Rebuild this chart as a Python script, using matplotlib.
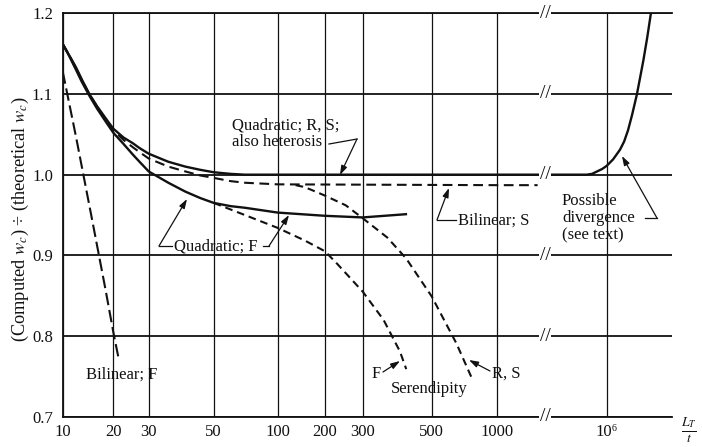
import numpy as np
import matplotlib
matplotlib.use("Agg")
import matplotlib.pyplot as plt

# readings: x = L_T / t, y = computed w_c / theoretical w_c
early_x = [10, 11, 12, 13, 14.4, 16, 18, 20, 22.5, 25, 27, 30, 35, 40, 45, 50, 60, 70, 100]

quad_rs_x = early_x + [1000, 1e4, 1e5, 2.85e5, 3.97e5, 5.44e5, 7.45e5, 1e6, 1.49e6, 2.3e6,
                       2.97e6, 3.8e6, 4.9e6, 6.6e6, 8.1e6, 1e7, 1.26e7, 1.6e7]
quad_rs_y = [1.162, 1.147, 1.133, 1.118, 1.100, 1.085, 1.070, 1.057, 1.046, 1.039, 1.033,
             1.026, 1.016, 1.010, 1.006, 1.003, 1.001, 1.000, 1.000,
             1.000, 1.000, 1.000, 1.000, 1.001, 1.004, 1.007, 1.011, 1.019, 1.031,
             1.041, 1.055, 1.074, 1.099, 1.120, 1.142, 1.169, 1.200]

bil_s_x = early_x + [1000, 1.3e4]
bil_s_y = [1.162, 1.147, 1.132, 1.117, 1.100, 1.084, 1.068, 1.055, 1.043, 1.034, 1.028,
           1.020, 1.010, 1.004, 0.999, 0.996, 0.992, 0.990, 0.988, 0.987, 0.987]

quad_f_x = early_x + [200, 300, 413]
quad_f_y = [1.162, 1.146, 1.130, 1.115, 1.098, 1.082, 1.066, 1.052, 1.038, 1.025, 1.016,
            1.004, 0.990, 0.979, 0.971, 0.965, 0.961, 0.959, 0.953, 0.949, 0.947, 0.951]

ser_f_x = [50, 70, 100, 150, 200, 227, 260, 300, 350, 395, 414]
ser_f_y = [0.965, 0.950, 0.934, 0.918, 0.905, 0.890, 0.873, 0.855, 0.820, 0.781, 0.759]

ser_rs_x = [130, 145, 160, 200, 250, 300, 360, 414, 500, 650, 766]
ser_rs_y = [0.987, 0.985, 0.982, 0.974, 0.962, 0.946, 0.922, 0.896, 0.849, 0.791, 0.748]

bil_f_x = [10, 12, 15, 18, 20, 21.3]
bil_f_y = [1.128, 1.047, 0.943, 0.857, 0.805, 0.771]

x_ticks = [10, 20, 30, 50, 100, 200, 300, 500, 1000, 1e6]
x_tick_labels = ["10", "20", "30", "50", "100", "200", "300", "500", "1000", "10⁶"]
y_ticks = [0.7, 0.8, 0.9, 1.0, 1.1, 1.2]

# the paper's axis is not a true log scale: anchor each tick where it sits
SCALE_VALS = [10, 20, 30, 50, 100, 200, 300, 500, 1000, 1e6, 1e8]
SCALE_POS = [62.7, 113.3, 148.7, 213.7, 277.7, 325.0, 362.7, 431.7, 496.7, 606.7, 680.0]
LOG_VALS = np.log10(SCALE_VALS)
BREAK_X = 2.1e4

INK = "#111111"
FS = 12

plt.rcParams["font.family"] = ["Liberation Serif", "DejaVu Serif"]
plt.rcParams["mathtext.fontset"] = "stix"
plt.rcParams["lines.scale_dashes"] = False


def fwd(x):
    x = np.clip(np.asarray(x, dtype=float), 1e-12, None)
    return np.interp(np.log10(x), LOG_VALS, SCALE_POS)


def inv(p):
    return 10 ** np.interp(p, SCALE_POS, LOG_VALS)


def ax_frac(px, py):
    # pixel position in the 702x447 figure -> axes fraction
    return (px - 62.7) / 609.0, (416.7 - py) / 403.4


def leader(ax, pts):
    pts = [ax_frac(*p) for p in pts]
    if len(pts) > 2:
        xs, ys = zip(*pts[:-1])
        ax.plot(xs, ys, color=INK, lw=0.9, transform=ax.transAxes, clip_on=False, zorder=7)
    ax.annotate("", xy=pts[-1], xytext=pts[-2], xycoords="axes fraction",
                textcoords="axes fraction",
                arrowprops=dict(arrowstyle="-|>,head_length=0.55,head_width=0.18",
                                color=INK, lw=0.9, shrinkA=0, shrinkB=0), zorder=7)


def label(ax, px, py, s, **kw):
    fx, fy = ax_frac(px, py)
    ax.text(fx, fy, s, transform=ax.transAxes, fontsize=FS, color=INK, zorder=8, **kw)


fig = plt.figure(figsize=(7.02, 4.47), dpi=100)
ax = fig.add_axes([0.0893, 0.0678, 0.9568 - 0.0893, 0.9702 - 0.0678])
ax.set_xscale("function", functions=(fwd, inv))
ax.set_xlim(10, 5.9e7)
ax.set_ylim(0.7, 1.2)

ax.plot(quad_rs_x, quad_rs_y, color=INK, lw=1.7, zorder=3)
ax.plot(quad_f_x, quad_f_y, color=INK, lw=1.7, zorder=3)
ax.plot(bil_s_x, bil_s_y, color=INK, lw=1.5, ls=(0, (7, 4)), zorder=3)
ax.plot(bil_f_x, bil_f_y, color=INK, lw=1.5, ls=(0, (9, 3.5)), zorder=3)
ax.plot(ser_f_x, ser_f_y, color=INK, lw=1.5, ls=(0, (5.5, 3.5)), zorder=3)
ax.plot(ser_rs_x, ser_rs_y, color=INK, lw=1.5, ls=(0, (5.5, 3.5)), zorder=3)

ax.set_xticks(x_ticks, x_tick_labels)
ax.xaxis.set_minor_locator(matplotlib.ticker.NullLocator())
ax.set_yticks(y_ticks, [f"{v:.1f}" for v in y_ticks])
ax.tick_params(axis="both", length=0, labelsize=FS, colors=INK)
ax.tick_params(axis="x", pad=5)
ax.tick_params(axis="y", pad=7)
ax.grid(axis="x", color=INK, lw=0.9, zorder=1)
ax.grid(axis="y", color=INK, lw=1.3, zorder=1)
ax.spines["right"].set_visible(False)
for side in ("left", "top", "bottom"):
    ax.spines[side].set_linewidth(1.3)
    ax.spines[side].set_color(INK)

# axis break marks on every horizontal line
for yv in y_ticks:
    ax.text(BREAK_X, yv, "//", ha="center", va="center", fontsize=14, color=INK,
            clip_on=False, zorder=9,
            bbox=dict(boxstyle="square,pad=0.04", fc="white", ec="none"))

ax.set_ylabel(r"(Computed $w_c$) ÷ (theoretical $w_c$)", fontsize=FS + 1.2, color=INK)
ax.yaxis.set_label_coords(-0.052, 0.49)
fig.text(689 / 702, 1 - 430 / 447, r"$\frac{L_T}{t}$", fontsize=14, ha="center",
         va="center", color=INK)

label(ax, 232, 117, "Quadratic; R, S;\nalso heterosis", ha="left", va="top", linespacing=1.05)
leader(ax, [(329, 144), (357, 139), (340, 175)])

label(ax, 458, 221, "Bilinear; S", ha="left", va="center")
leader(ax, [(456, 220), (437, 220), (449, 188)])

label(ax, 216, 246, "Quadratic; F", ha="center", va="center")
leader(ax, [(172, 246), (159, 246), (187, 199)])
leader(ax, [(263, 246), (269, 246), (289, 215)])

label(ax, 122, 375, "Bilinear; F", ha="center", va="center")
label(ax, 376, 374, "F", ha="center", va="center")
leader(ax, [(383, 372), (400, 361)])
label(ax, 429, 389, "Serendipity", ha="center", va="center")
label(ax, 506, 374, "R, S", ha="center", va="center")
leader(ax, [(490, 371), (469, 360)])

label(ax, 562, 193, "Possible\ndivergence\n(see text)", ha="left", va="top", linespacing=1.1)
leader(ax, [(645, 218), (657, 218), (622, 156)])

fig.savefig("out.png", dpi=100)
